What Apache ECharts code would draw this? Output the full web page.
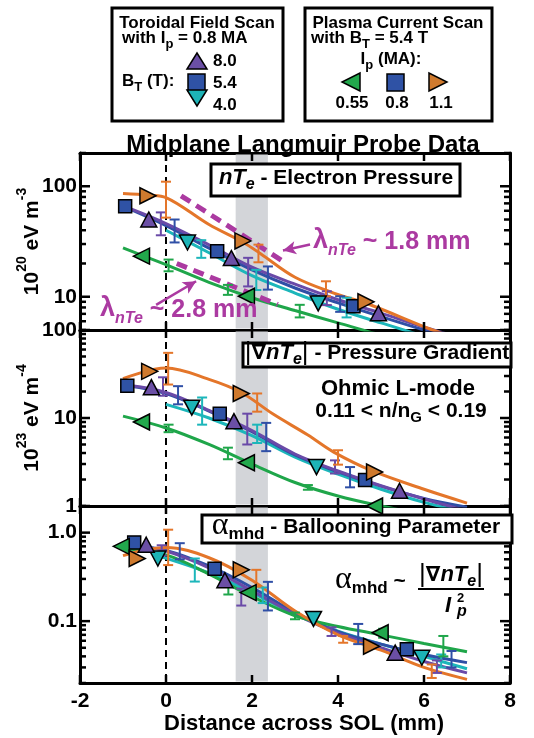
<!DOCTYPE html>
<html>
<head>
<meta charset="utf-8">
<title>Midplane Langmuir Probe Data</title>
<script src="https://cdn.jsdelivr.net/npm/echarts@6/dist/echarts.min.js"></script>
<style>
  html, body { margin: 0; padding: 0; background: #fff; }
  #main { width: 534px; height: 738px; }
</style>
</head>
<body>
<div id="main"></div>
<script>
// ---- axes ----
var xTicks = [-2, 0, 2, 4, 6, 8];
var xRange = [-2, 8];
var nteRange = [5, 200];
var gradRange = [1, 100];
var alphaRange = [0.02, 2];
var nteMajor = [10, 100];
var nteMinor = [5, 6, 7, 8, 9, 20, 30, 40, 50, 60, 70, 80, 90, 200];
var gradMajor = [1, 10, 100];
var gradMinor = [2, 3, 4, 5, 6, 7, 8, 9, 20, 30, 40, 50, 60, 70, 80, 90];
var alphaMajor = [0.1, 1];
var alphaMinor = [0.02, 0.03, 0.04, 0.05, 0.06, 0.07, 0.08, 0.09, 0.2, 0.3, 0.4, 0.5, 0.6, 0.7, 0.8, 0.9, 2];
var bandX = [1.62, 2.37];
var separatrixX = [0];

// ---- electron pressure nTe (1e20 eV m^-3) ----
var nteBt80Line = [[-0.8, 62], [0, 46], [1, 29.5], [2, 18.5], [3, 13], [4, 9.4], [5, 7.1], [6, 5.3], [7, 4.1]];
var nteBt80Mark = [[-0.4, 50], [1.52, 22.4], [4.94, 7.1]];
var nteBt80Err = [[-0.12, 36, 58], [1.91, 12.4, 22.5], [3.74, 8.4, 11.2]];
var nteBt54Line = [[-1, 66], [0, 44], [1, 27.5], [2, 17.5], [3, 12], [4, 8.8], [5, 6.6], [6, 5], [7, 3.9]];
var nteBt54Mark = [[-0.95, 66], [1.19, 25.8], [4.36, 8.2]];
var nteBt54Err = [[0.2, 31, 50], [2.37, 11.6, 18.8], [4.05, 7.3, 10.1]];
var nteBt40Line = [[0, 40], [1, 25], [2, 15.5], [3, 10.8], [4, 7.7], [5, 5.8], [6, 4.4], [7, 3.4]];
var nteBt40Mark = [[0.5, 31], [3.54, 8.7]];
var nteBt40Err = [[0.82, 22.5, 32.5], [2.1, 11.5, 17.5], [4.2, 6.5, 9.8]];
var nteIp055Line = [[-1, 27.7], [0, 19.5], [1, 13.5], [2, 9.8], [3, 7.5], [4, 5.8], [5, 4.5], [6, 3.6], [7, 2.9]];
var nteIp055Mark = [[-0.57, 23.3], [1.87, 10.1]];
var nteIp055Err = [[0.06, 17, 21.7], [1.44, 10.4, 12.8], [3.11, 6.5, 8.45]];
var nteIp11Line = [[-1, 86], [-0.4, 83], [0, 79], [1, 45], [1.8, 31], [2.2, 24.5], [3, 15], [3.9, 10.8], [4.7, 8.6], [6.2, 5], [7, 3.9]];
var nteIp11Mark = [[-0.42, 82], [1.79, 32], [4.65, 9]];
var nteIp11Err = [[0, 52, 110], [2.15, 20.5, 29.6], [3.72, 10.1, 13.8]];
// exponential fits, lambda = 1.8 mm and 2.8 mm
var nteFit18 = [[0.35, 82], [2.8, 20]];
var nteFit28 = [[0.25, 20], [2.6, 8.5]];

// ---- pressure gradient |grad nTe| (1e23 eV m^-4) ----
var gradBt80Line = [[-0.9, 23.5], [0, 19.5], [1, 12.2], [2, 7.2], [3, 3.9], [4, 2.5], [5, 1.7], [6, 1.2], [7, 0.88]];
var gradBt80Mark = [[-0.34, 22.4], [1.58, 9.2], [5.43, 1.49]];
var gradBt80Err = [[-0.07, 17.9, 29], [1.89, 5, 11.2], [3.93, 2.34, 3.3]];
var gradBt54Line = [[-0.9, 23.3], [0, 19], [1, 12], [2, 7], [3, 3.8], [4, 2.45], [5, 1.68], [6, 1.22], [7, 0.97]];
var gradBt54Mark = [[-0.9, 23.3], [1.25, 11.2], [4.63, 1.98]];
var gradBt54Err = [[0.28, 14.3, 23], [2.33, 4.2, 8.8], [4.28, 1.63, 2.77]];
var gradBt40Line = [[0, 14.3], [1, 10], [2, 6.3], [3, 3.6], [4, 2.3], [5, 1.55], [6, 1.1], [7, 0.85]];
var gradBt40Mark = [[0.6, 13.1], [3.5, 2.77]];
var gradBt40Err = [[0.84, 8.4, 17.1], [2.12, 5.2, 8.4]];
var gradIp055Line = [[-1, 10.5], [0, 7.7], [1, 5], [2, 3], [3, 1.85], [4, 1.3], [5, 1], [6, 0.8]];
var gradIp055Mark = [[-0.57, 9], [1.87, 3.1], [4.85, 1]];
var gradIp055Err = [[0.06, 6.9, 8.4], [1.44, 3.4, 4.6], [3.3, 1.53, 1.73]];
var gradIp11Line = [[-1, 28], [0, 37], [1, 27.5], [1.75, 19.5], [2.5, 11], [3.3, 6.4], [3.9, 4.1], [4.8, 2.5], [6, 1.55], [7, 1.08]];
var gradIp11Mark = [[-0.38, 33.9], [1.75, 19], [4.85, 2.43]];
var gradIp11Err = [[0.05, 24, 55], [2.12, 11.8, 19], [4, 2.95, 4.3]];

// ---- ballooning parameter alpha_mhd ----
var alphaBt80Line = [[-0.8, 0.72], [0, 0.62], [1, 0.4], [2, 0.22], [3, 0.12], [4, 0.073], [5, 0.05], [6, 0.035], [7, 0.026]];
var alphaBt80Mark = [[-0.46, 0.73], [1.37, 0.29], [5.33, 0.044]];
var alphaBt80Err = [[-0.1, 0.55, 0.72], [1.75, 0.15, 0.233], [3.85, 0.068, 0.085], [6.3, 0.026, 0.036]];
var alphaBt54Line = [[-0.9, 0.72], [0, 0.63], [1, 0.42], [2, 0.24], [3, 0.125], [4, 0.076], [5, 0.055], [6, 0.042], [7, 0.034]];
var alphaBt54Mark = [[-0.74, 0.776], [1.13, 0.39], [5.6, 0.048]];
var alphaBt54Err = [[0.32, 0.5, 0.76], [2.37, 0.132, 0.278], [4.47, 0.055, 0.093], [6.64, 0.03, 0.046]];
var alphaBt40Line = [[-0.2, 0.55], [1, 0.35], [2, 0.21], [3, 0.12], [4, 0.077], [5, 0.055], [6, 0.04], [7, 0.029]];
var alphaBt40Mark = [[-0.19, 0.51], [3.43, 0.106], [5.95, 0.0386]];
var alphaBt40Err = [[0.67, 0.28, 0.51], [2.25, 0.16, 0.24], [6.4, 0.03, 0.042]];
var alphaIp055Line = [[-1, 0.66], [0, 0.56], [1, 0.34], [2, 0.19], [3, 0.115], [4, 0.087], [5, 0.07], [6, 0.056], [7, 0.045]];
var alphaIp055Mark = [[-1.04, 0.7], [1.91, 0.21], [4.98, 0.074]];
var alphaIp055Err = [[1.45, 0.2, 0.25], [3, 0.105, 0.125], [5.05, 0.065, 0.082], [6.45, 0.04, 0.068]];
var alphaIp11Line = [[-1, 0.55], [0, 0.68], [1, 0.52], [2, 0.29], [3, 0.13], [4, 0.07], [5, 0.047], [6, 0.03], [7, 0.022]];
var alphaIp11Mark = [[-0.67, 0.51], [1.75, 0.38], [4.78, 0.052]];
var alphaIp11Err = [[0.05, 0.43, 1.08], [2.1, 0.245, 0.38], [4.12, 0.057, 0.068], [6.18, 0.0228, 0.0324]];

var F = '"Liberation Sans", Arial, sans-serif';
var MAGENTA = '#ab3aa1';

// marker / line style per scan
var scans = {
    bt80: { line: '#6a4aa8', fill: '#6b4fa5', symbol: 'triangle', rotate: 0, size: [16, 15] },
    bt54: { line: '#2f4fa6', fill: '#2f52a5', symbol: 'rect', rotate: 0, size: [13, 13] },
    bt40: { line: '#1cb6ba', fill: '#1db3b6', symbol: 'triangle', rotate: 180, size: [16, 15] },
    ip055: { line: '#1fa64a', fill: '#22a84c', symbol: 'triangle', rotate: 90, size: [16, 16] },
    ip11: { line: '#e4762a', fill: '#cf7a2e', symbol: 'triangle', rotate: -90, size: [16, 16] }
};

function renderErr(params, api) {
    var x = api.value(0);
    var lo = api.coord([x, api.value(1)]);
    var hi = api.coord([x, api.value(2)]);
    var w = 5;
    var st = { stroke: api.visual('color'), lineWidth: 2 };
    return {
        type: 'group',
        children: [
            { type: 'line', shape: { x1: lo[0], y1: lo[1], x2: hi[0], y2: hi[1] }, style: st },
            { type: 'line', shape: { x1: lo[0] - w, y1: lo[1], x2: lo[0] + w, y2: lo[1] }, style: st },
            { type: 'line', shape: { x1: hi[0] - w, y1: hi[1], x2: hi[0] + w, y2: hi[1] }, style: st }
        ]
    };
}

function renderBand(params, api) {
    var cs = params.coordSys;
    var a = api.coord([api.value(0), 1])[0];
    var b = api.coord([api.value(1), 1])[0];
    return { type: 'rect', shape: { x: a, y: cs.y + 1.5, width: b - a, height: cs.height - 3 }, style: { fill: '#d3d5d9' } };
}

function renderZero(params, api) {
    var cs = params.coordSys;
    var x = api.coord([api.value(0), 1])[0];
    return { type: 'line', shape: { x1: x, y1: cs.y, x2: x, y2: cs.y + cs.height }, style: { stroke: '#000', lineWidth: 2, lineDash: [7, 5] } };
}

function scanSeries(p, key, lineData, markData, errData) {
    var s = scans[key];
    return [
        { type: 'line', xAxisIndex: 2 * p, yAxisIndex: 2 * p, data: lineData, smooth: 0.35, showSymbol: false, silent: true, clip: true,
          lineStyle: { color: s.line, width: 3 }, z: 3 },
        { type: 'custom', xAxisIndex: 2 * p, yAxisIndex: 2 * p, data: errData, renderItem: renderErr, encode: { x: 0, y: [1, 2] },
          itemStyle: { color: s.line }, silent: true, z: 4 },
        { type: 'scatter', xAxisIndex: 2 * p, yAxisIndex: 2 * p, data: markData, symbol: s.symbol, symbolRotate: s.rotate, symbolSize: s.size,
          itemStyle: { color: s.fill, borderColor: '#000', borderWidth: 1.5, opacity: 1 }, silent: true, z: 5 }
    ];
}

function frameSeries(p) {
    var ax = { xAxisIndex: 2 * p, yAxisIndex: 2 * p, silent: true, clip: false };
    return [
        Object.assign({ type: 'custom', data: [bandX], renderItem: renderBand, encode: { x: [0, 1] }, z: 1 }, ax),
        Object.assign({ type: 'custom', data: separatrixX.map(function (v) { return [v]; }), renderItem: renderZero, encode: { x: 0 }, z: 2 }, ax)
    ];
}

var axisLineStyle = { color: '#000', width: 3 };
var labelFont = { color: '#000', fontSize: 21, fontWeight: 'bold', fontFamily: F };

function xAxisFor(p, pos) {
    var labeled = (p === 2 && pos === 'bottom');
    return {
        type: 'value', gridIndex: p, position: pos, min: xRange[0], max: xRange[1], interval: 2,
        axisLine: { show: true, onZero: false, lineStyle: axisLineStyle },
        axisTick: { show: false },
        splitLine: { show: false },
        axisLabel: Object.assign({ show: labeled, margin: 8 }, labelFont),
        name: labeled ? 'Distance across SOL (mm)' : '',
        nameLocation: 'middle', nameGap: 30, nameMoveOverlap: false,
        nameTextStyle: { color: '#000', fontSize: 22, fontWeight: 'bold', fontFamily: F, padding: [0, 0, 0, 18] }
    };
}

function yAxesFor(p, range, major, fmt, name) {
    function base(pos, withLabel) {
        return {
            type: 'log', logBase: 10, gridIndex: p, position: pos, min: range[0], max: range[1],
            axisLine: { show: true, onZero: false, lineStyle: axisLineStyle },
            splitLine: { show: false },
            axisTick: { show: false },
            axisLabel: Object.assign({ show: withLabel, margin: 3, customValues: major, formatter: fmt }, labelFont)
        };
    }
    var left = base('left', true);
    if (name) {
        left.name = name;
        left.nameLocation = 'middle';
        left.nameGap = 37;
        left.nameMoveOverlap = false;
        left.nameRotate = 90;
        left.nameTextStyle = {
            color: '#000', fontFamily: F, fontWeight: 'bold',
            rich: {
                b: { fontSize: 21, fontWeight: 'bold', fontFamily: F, color: '#000', verticalAlign: 'top', padding: [7, 0, 0, 0] },
                sup: { fontSize: 14, fontWeight: 'bold', fontFamily: F, color: '#000', verticalAlign: 'top' }
            }
        };
    }
    return [left, base('right', false)];
}

// ---- graphic helpers (boxes, legend, annotations) ----
function richText(x, y, text, align, rich, color) {
    return {
        type: 'text', x: x, y: y, z: 100,
        style: { text: text, rich: rich, fill: color || '#000', align: align, textAlign: align, verticalAlign: 'middle', textVerticalAlign: 'middle',
                 font: 'bold 17px ' + F }
    };
}
function frag(size, opts) {
    return Object.assign({ fontSize: size, fontWeight: 'bold', fontFamily: F, verticalAlign: 'top' }, opts || {});
}
function box(x, y, w, h) {
    return { type: 'rect', z: 90, shape: { x: x, y: y, width: w, height: h }, style: { fill: '#fff', stroke: '#000', lineWidth: 3 } };
}
function poly(points, color) {
    return { type: 'polygon', z: 100, shape: { points: points }, style: { fill: color, stroke: '#000', lineWidth: 1.5 } };
}
function sq(x, y, w, color) {
    return { type: 'rect', z: 100, shape: { x: x, y: y, width: w, height: w }, style: { fill: color, stroke: '#000', lineWidth: 1.5 } };
}

var legRich = { t: frag(17), s: frag(13, { padding: [8, 0, 0, 0] }) };
var lamRich = {
    l: frag(27, { color: MAGENTA }),
    ls: frag(16, { color: MAGENTA, fontStyle: 'italic', padding: [15, 0, 0, 0] }),
    t: frag(25, { color: MAGENTA, padding: [2, 0, 0, 0] })
};
var panelRich = {
    it: frag(22, { fontStyle: 'italic' }),
    its: frag(16, { fontStyle: 'italic', padding: [10, 0, 0, 0] }),
    t: frag(21, { padding: [1, 0, 0, 0] }),
    bar: frag(26, { fontWeight: 'normal', padding: [-2, 0, 0, 0] }),
    g: frag(21, { padding: [1, 0, 0, 0], fontFamily: '"DejaVu Sans", sans-serif' }),
    a: frag(32, { fontWeight: 'normal', fontFamily: '"Liberation Serif", serif', padding: [-6, 0, 0, 0] }),
    as: frag(17, { padding: [10, 0, 0, 0] }),
    s: frag(15, { padding: [10, 0, 0, 0] })
};

var graphics = [
    // toroidal field scan legend
    box(112, 8, 171, 113),
    richText(197, 23, '{t|Toroidal Field Scan}', 'center', legRich),
    richText(122, 40, '{t|with I}{s|p}{t| = 0.8 MA}', 'left', legRich),
    poly([[187, 69], [207, 69], [197, 53]], scans.bt80.fill),
    sq(188, 74, 17, scans.bt54.fill),
    poly([[187, 90], [207, 90], [197, 106]], scans.bt40.fill),
    richText(213, 61, '{t|8.0}', 'left', legRich),
    richText(122, 83, '{t|B}{s|T}{t| (T):}', 'left', legRich),
    richText(213, 83, '{t|5.4}', 'left', legRich),
    richText(213, 105, '{t|4.0}', 'left', legRich),
    // plasma current scan legend
    box(305, 8, 187, 113),
    richText(398, 23, '{t|Plasma Current Scan}', 'center', legRich),
    richText(311, 40, '{t|with B}{s|T}{t| = 5.4 T}', 'left', legRich),
    richText(391, 61, '{t|I}{s|p}{t| (MA):}', 'center', legRich),
    poly([[360, 73], [360, 91], [342, 82]], scans.ip055.fill),
    sq(387, 74, 17, scans.bt54.fill),
    poly([[429, 73], [429, 91], [447, 82]], scans.ip11.fill),
    richText(352, 103, '{t|0.55}', 'center', legRich),
    richText(397, 103, '{t|0.8}', 'center', legRich),
    richText(441, 103, '{t|1.1}', 'center', legRich),
    // panel labels
    box(211, 164, 249, 32),
    richText(336, 180, '{it|nT}{its|e}{t| - Electron Pressure}', 'center', panelRich),
    richText(313, 243, '{l|λ}{ls|nTe}{t| ~ 1.8 mm}', 'left', lamRich, MAGENTA),
    richText(100, 311, '{l|λ}{ls|nTe}{t| ~ 2.8 mm}', 'left', lamRich, MAGENTA),
    box(243, 343, 268, 24),
    richText(377, 355, '{bar||}{g|∇}{it|nT}{its|e}{bar||}{t| - Pressure Gradient}', 'center', panelRich),
    richText(398, 389, '{t|Ohmic L-mode}', 'center', { t: frag(22) }),
    richText(401, 413, '{t|0.11 < n/n}{s|G}{t| < 0.19}', 'center', { t: frag(21), s: frag(15, { padding: [10, 0, 0, 0] }) }),
    box(202, 515, 310, 28),
    richText(356, 529, '{a|α}{as|mhd}{t| - Ballooning Parameter}', 'center', panelRich),
    richText(335, 583, '{a|α}{as|mhd}{t| ~}', 'left', panelRich),
    richText(451, 577, '{bar||}{g|∇}{it|nT}{its|e}{bar||}', 'center', panelRich),
    { type: 'line', z: 100, shape: { x1: 418, y1: 589, x2: 484, y2: 589 }, style: { stroke: '#000', lineWidth: 2 } },
    richText(448, 606, '{it|I}', 'center', panelRich),
    richText(457, 612, '{its|p}', 'left', { its: frag(16, { fontStyle: 'italic' }) }),
    richText(457, 598, '{s|2}', 'left', { s: frag(13) })
];

var series = [].concat(
    frameSeries(0), frameSeries(1), frameSeries(2),
    scanSeries(0, 'bt40', nteBt40Line, nteBt40Mark, nteBt40Err),
    scanSeries(0, 'bt54', nteBt54Line, nteBt54Mark, nteBt54Err),
    scanSeries(0, 'bt80', nteBt80Line, nteBt80Mark, nteBt80Err),
    scanSeries(0, 'ip055', nteIp055Line, nteIp055Mark, nteIp055Err),
    scanSeries(0, 'ip11', nteIp11Line, nteIp11Mark, nteIp11Err),
    scanSeries(1, 'bt40', gradBt40Line, gradBt40Mark, gradBt40Err),
    scanSeries(1, 'bt54', gradBt54Line, gradBt54Mark, gradBt54Err),
    scanSeries(1, 'bt80', gradBt80Line, gradBt80Mark, gradBt80Err),
    scanSeries(1, 'ip055', gradIp055Line, gradIp055Mark, gradIp055Err),
    scanSeries(1, 'ip11', gradIp11Line, gradIp11Mark, gradIp11Err),
    scanSeries(2, 'bt40', alphaBt40Line, alphaBt40Mark, alphaBt40Err),
    scanSeries(2, 'bt54', alphaBt54Line, alphaBt54Mark, alphaBt54Err),
    scanSeries(2, 'bt80', alphaBt80Line, alphaBt80Mark, alphaBt80Err),
    scanSeries(2, 'ip055', alphaIp055Line, alphaIp055Mark, alphaIp055Err),
    scanSeries(2, 'ip11', alphaIp11Line, alphaIp11Mark, alphaIp11Err)
);

// exponential decay fits with arrows from the labels
var fitLine = { color: MAGENTA, width: 5, type: [11, 7] };
var arrowStyle = { color: MAGENTA, width: 2.5, type: 'solid' };
series.push({
    type: 'line', xAxisIndex: 0, yAxisIndex: 0, data: nteFit18, showSymbol: false, silent: true, lineStyle: fitLine, z: 3,
    markLine: { silent: true, symbol: ['none', 'arrow'], symbolSize: [10, 13], label: { show: false }, lineStyle: arrowStyle,
        data: [[{ coord: [3.35, 29.7] }, { coord: [2.72, 26.2] }]] }
});
series.push({
    type: 'line', xAxisIndex: 0, yAxisIndex: 0, data: nteFit28, showSymbol: false, silent: true, lineStyle: fitLine, z: 3,
    markLine: { silent: true, symbol: ['none', 'arrow'], symbolSize: [10, 13], label: { show: false }, lineStyle: arrowStyle,
        data: [[{ coord: [-0.23, 8.45] }, { coord: [0.7, 13.8] }]] }
});

var gridBase = { left: 80, width: 430, show: false };

var myChart = echarts.init(document.getElementById('main'));
myChart.setOption({
    animation: false,
    backgroundColor: '#fff',
    title: {
        text: 'Midplane Langmuir Probe Data', left: 298, top: 140, textAlign: 'center', textVerticalAlign: 'middle',
        textStyle: { color: '#000', fontSize: 24, fontWeight: 'bold', fontFamily: F }
    },
    grid: [
        Object.assign({ top: 153, height: 177 }, gridBase),
        Object.assign({ top: 330, height: 176 }, gridBase),
        Object.assign({ top: 506, height: 177 }, gridBase)
    ],
    xAxis: [xAxisFor(0, 'bottom'), xAxisFor(0, 'top'), xAxisFor(1, 'bottom'), xAxisFor(1, 'top'), xAxisFor(2, 'bottom'), xAxisFor(2, 'top')],
    yAxis: [].concat(
        yAxesFor(0, nteRange, nteMajor, function (v) { return String(v); }, '{b|10}{sup|20}{b| eV m}{sup|-3}'),
        yAxesFor(1, gradRange, gradMajor, function (v) { return String(v); }, '{b|10}{sup|23}{b| eV m}{sup|-4}'),
        yAxesFor(2, alphaRange, alphaMajor, function (v) { return v >= 1 ? v.toFixed(1) : String(v); }, null)
    ),
    graphic: graphics,
    series: series
});

// inward tick marks on all four sides of each panel, placed with the axes' own scales
var panels = [
    { range: nteRange, major: nteMajor, minor: nteMinor },
    { range: gradRange, major: gradMajor, minor: gradMinor },
    { range: alphaRange, major: alphaMajor, minor: alphaMinor }
];
var tickEls = [];
function tickLine(x1, y1, x2, y2) {
    tickEls.push({ type: 'line', z: 80, silent: true, shape: { x1: x1, y1: y1, x2: x2, y2: y2 }, style: { stroke: '#000', lineWidth: 2.5 } });
}
panels.forEach(function (pn, p) {
    var finder = { xAxisIndex: 2 * p, yAxisIndex: 2 * p };
    function px(x, y) { return myChart.convertToPixel(finder, [x, y]); }
    function yTicks(values, len) {
        values.forEach(function (v) {
            var a = px(xRange[0], v), b = px(xRange[1], v);
            tickLine(a[0], a[1], a[0] + len, a[1]);
            tickLine(b[0] - len, b[1], b[0], b[1]);
        });
    }
    yTicks(pn.major, 10);
    yTicks(pn.minor, 6);
    xTicks.forEach(function (x) {
        var lo = px(x, pn.range[0]), hi = px(x, pn.range[1]);
        tickLine(hi[0], hi[1], hi[0], hi[1] + 8);
        tickLine(lo[0], lo[1] - 8, lo[0], lo[1]);
    });
});
myChart.setOption({ graphic: graphics.concat(tickEls) });
</script>
</body>
</html>
